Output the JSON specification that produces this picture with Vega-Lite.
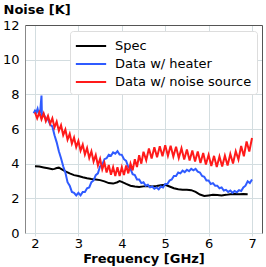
{
"$schema": "https://vega.github.io/schema/vega-lite/v6.json",
"width": 237, "height": 208,
"autosize": "none",
"padding": {"left": 25, "top": 25, "right": 4, "bottom": 34},
"config": {"font": "DejaVu Sans", "view": {"stroke": null},
  "axis": {"labelFont": "DejaVu Sans", "titleFont": "DejaVu Sans", "labelFontSize": 13, "titleFontSize": 13, "titleFontWeight": "bold", "labelColor": "black", "titleColor": "black", "gridColor": "#d3dde0", "gridWidth": 1, "gridOpacity": 1}},
"data": {"values": [
{"s":"Spec","f":2.0,"T":3.85},{"s":"Spec","f":2.1,"T":3.83},{"s":"Spec","f":2.2,"T":3.78},{"s":"Spec","f":2.3,"T":3.73},{"s":"Spec","f":2.4,"T":3.68},{"s":"Spec","f":2.45,"T":3.7},{"s":"Spec","f":2.5,"T":3.75},{"s":"Spec","f":2.55,"T":3.77},{"s":"Spec","f":2.6,"T":3.7},{"s":"Spec","f":2.7,"T":3.56},{"s":"Spec","f":2.8,"T":3.44},{"s":"Spec","f":2.9,"T":3.34},{"s":"Spec","f":3.0,"T":3.29},{"s":"Spec","f":3.1,"T":3.22},{"s":"Spec","f":3.2,"T":3.16},{"s":"Spec","f":3.3,"T":3.11},{"s":"Spec","f":3.4,"T":3.09},{"s":"Spec","f":3.5,"T":3.05},{"s":"Spec","f":3.6,"T":2.98},{"s":"Spec","f":3.7,"T":2.88},{"s":"Spec","f":3.8,"T":2.85},{"s":"Spec","f":3.9,"T":2.93},{"s":"Spec","f":3.95,"T":3.0},{"s":"Spec","f":4.0,"T":2.95},{"s":"Spec","f":4.1,"T":2.83},{"s":"Spec","f":4.2,"T":2.73},{"s":"Spec","f":4.3,"T":2.68},{"s":"Spec","f":4.4,"T":2.66},{"s":"Spec","f":4.5,"T":2.69},{"s":"Spec","f":4.6,"T":2.71},{"s":"Spec","f":4.7,"T":2.68},{"s":"Spec","f":4.8,"T":2.71},{"s":"Spec","f":4.9,"T":2.75},{"s":"Spec","f":5.0,"T":2.78},{"s":"Spec","f":5.1,"T":2.68},{"s":"Spec","f":5.2,"T":2.58},{"s":"Spec","f":5.3,"T":2.52},{"s":"Spec","f":5.4,"T":2.5},{"s":"Spec","f":5.5,"T":2.5},{"s":"Spec","f":5.6,"T":2.47},{"s":"Spec","f":5.7,"T":2.37},{"s":"Spec","f":5.8,"T":2.22},{"s":"Spec","f":5.9,"T":2.14},{"s":"Spec","f":6.0,"T":2.17},{"s":"Spec","f":6.1,"T":2.2},{"s":"Spec","f":6.2,"T":2.19},{"s":"Spec","f":6.3,"T":2.17},{"s":"Spec","f":6.4,"T":2.2},{"s":"Spec","f":6.5,"T":2.24},{"s":"Spec","f":6.6,"T":2.25},{"s":"Spec","f":6.7,"T":2.24},{"s":"Spec","f":6.8,"T":2.25},{"s":"Spec","f":6.9,"T":2.24},
{"s":"Data w/ heater","f":1.97,"T":6.91},{"s":"Data w/ heater","f":2.0,"T":7.06},{"s":"Data w/ heater","f":2.03,"T":6.96},{"s":"Data w/ heater","f":2.06,"T":7.17},{"s":"Data w/ heater","f":2.09,"T":6.86},{"s":"Data w/ heater","f":2.12,"T":7.01},{"s":"Data w/ heater","f":2.15,"T":7.93},{"s":"Data w/ heater","f":2.16,"T":6.81},{"s":"Data w/ heater","f":2.2,"T":6.86},{"s":"Data w/ heater","f":2.25,"T":6.6},{"s":"Data w/ heater","f":2.3,"T":6.55},{"s":"Data w/ heater","f":2.35,"T":6.25},{"s":"Data w/ heater","f":2.4,"T":6.15},{"s":"Data w/ heater","f":2.45,"T":5.64},{"s":"Data w/ heater","f":2.5,"T":5.23},{"s":"Data w/ heater","f":2.55,"T":4.72},{"s":"Data w/ heater","f":2.6,"T":4.31},{"s":"Data w/ heater","f":2.65,"T":3.85},{"s":"Data w/ heater","f":2.7,"T":3.49},{"s":"Data w/ heater","f":2.75,"T":2.93},{"s":"Data w/ heater","f":2.8,"T":2.73},{"s":"Data w/ heater","f":2.85,"T":2.37},{"s":"Data w/ heater","f":2.9,"T":2.32},{"s":"Data w/ heater","f":2.95,"T":2.17},{"s":"Data w/ heater","f":3.0,"T":2.32},{"s":"Data w/ heater","f":3.05,"T":2.17},{"s":"Data w/ heater","f":3.1,"T":2.37},{"s":"Data w/ heater","f":3.15,"T":2.37},{"s":"Data w/ heater","f":3.2,"T":2.58},{"s":"Data w/ heater","f":3.25,"T":2.63},{"s":"Data w/ heater","f":3.3,"T":2.93},{"s":"Data w/ heater","f":3.35,"T":3.03},{"s":"Data w/ heater","f":3.4,"T":3.34},{"s":"Data w/ heater","f":3.45,"T":3.44},{"s":"Data w/ heater","f":3.5,"T":3.85},{"s":"Data w/ heater","f":3.55,"T":3.95},{"s":"Data w/ heater","f":3.6,"T":4.26},{"s":"Data w/ heater","f":3.65,"T":4.31},{"s":"Data w/ heater","f":3.7,"T":4.51},{"s":"Data w/ heater","f":3.75,"T":4.46},{"s":"Data w/ heater","f":3.8,"T":4.65},{"s":"Data w/ heater","f":3.85,"T":4.58},{"s":"Data w/ heater","f":3.9,"T":4.72},{"s":"Data w/ heater","f":3.95,"T":4.53},{"s":"Data w/ heater","f":4.0,"T":4.51},{"s":"Data w/ heater","f":4.05,"T":4.26},{"s":"Data w/ heater","f":4.1,"T":4.16},{"s":"Data w/ heater","f":4.15,"T":3.8},{"s":"Data w/ heater","f":4.2,"T":3.7},{"s":"Data w/ heater","f":4.25,"T":3.39},{"s":"Data w/ heater","f":4.3,"T":3.34},{"s":"Data w/ heater","f":4.35,"T":3.09},{"s":"Data w/ heater","f":4.4,"T":3.09},{"s":"Data w/ heater","f":4.45,"T":2.88},{"s":"Data w/ heater","f":4.5,"T":2.93},{"s":"Data w/ heater","f":4.55,"T":2.73},{"s":"Data w/ heater","f":4.6,"T":2.78},{"s":"Data w/ heater","f":4.65,"T":2.63},{"s":"Data w/ heater","f":4.7,"T":2.68},{"s":"Data w/ heater","f":4.75,"T":2.55},{"s":"Data w/ heater","f":4.8,"T":2.63},{"s":"Data w/ heater","f":4.85,"T":2.52},{"s":"Data w/ heater","f":4.9,"T":2.68},{"s":"Data w/ heater","f":4.95,"T":2.63},{"s":"Data w/ heater","f":5.0,"T":2.83},{"s":"Data w/ heater","f":5.05,"T":2.83},{"s":"Data w/ heater","f":5.1,"T":3.03},{"s":"Data w/ heater","f":5.15,"T":3.09},{"s":"Data w/ heater","f":5.2,"T":3.29},{"s":"Data w/ heater","f":5.25,"T":3.29},{"s":"Data w/ heater","f":5.3,"T":3.49},{"s":"Data w/ heater","f":5.35,"T":3.44},{"s":"Data w/ heater","f":5.4,"T":3.6},{"s":"Data w/ heater","f":5.45,"T":3.51},{"s":"Data w/ heater","f":5.5,"T":3.65},{"s":"Data w/ heater","f":5.55,"T":3.57},{"s":"Data w/ heater","f":5.6,"T":3.7},{"s":"Data w/ heater","f":5.65,"T":3.62},{"s":"Data w/ heater","f":5.7,"T":3.7},{"s":"Data w/ heater","f":5.75,"T":3.54},{"s":"Data w/ heater","f":5.8,"T":3.49},{"s":"Data w/ heater","f":5.85,"T":3.29},{"s":"Data w/ heater","f":5.9,"T":3.24},{"s":"Data w/ heater","f":5.95,"T":3.03},{"s":"Data w/ heater","f":6.0,"T":3.03},{"s":"Data w/ heater","f":6.05,"T":2.83},{"s":"Data w/ heater","f":6.1,"T":2.88},{"s":"Data w/ heater","f":6.15,"T":2.73},{"s":"Data w/ heater","f":6.2,"T":2.73},{"s":"Data w/ heater","f":6.25,"T":2.58},{"s":"Data w/ heater","f":6.3,"T":2.63},{"s":"Data w/ heater","f":6.35,"T":2.45},{"s":"Data w/ heater","f":6.4,"T":2.49},{"s":"Data w/ heater","f":6.45,"T":2.37},{"s":"Data w/ heater","f":6.5,"T":2.45},{"s":"Data w/ heater","f":6.55,"T":2.32},{"s":"Data w/ heater","f":6.6,"T":2.42},{"s":"Data w/ heater","f":6.65,"T":2.35},{"s":"Data w/ heater","f":6.7,"T":2.47},{"s":"Data w/ heater","f":6.75,"T":2.42},{"s":"Data w/ heater","f":6.8,"T":2.63},{"s":"Data w/ heater","f":6.85,"T":2.73},{"s":"Data w/ heater","f":6.9,"T":2.98},{"s":"Data w/ heater","f":6.95,"T":2.88},{"s":"Data w/ heater","f":7.0,"T":3.09},
{"s":"Data w/ noise source","f":2.0,"T":6.96},{"s":"Data w/ noise source","f":2.05,"T":6.62},{"s":"Data w/ noise source","f":2.1,"T":6.96},{"s":"Data w/ noise source","f":2.15,"T":6.55},{"s":"Data w/ noise source","f":2.2,"T":6.89},{"s":"Data w/ noise source","f":2.25,"T":6.45},{"s":"Data w/ noise source","f":2.3,"T":6.76},{"s":"Data w/ noise source","f":2.35,"T":6.3},{"s":"Data w/ noise source","f":2.4,"T":6.62},{"s":"Data w/ noise source","f":2.45,"T":6.09},{"s":"Data w/ noise source","f":2.5,"T":6.42},{"s":"Data w/ noise source","f":2.55,"T":5.89},{"s":"Data w/ noise source","f":2.6,"T":6.22},{"s":"Data w/ noise source","f":2.65,"T":5.65},{"s":"Data w/ noise source","f":2.7,"T":5.97},{"s":"Data w/ noise source","f":2.75,"T":5.38},{"s":"Data w/ noise source","f":2.8,"T":5.72},{"s":"Data w/ noise source","f":2.85,"T":5.16},{"s":"Data w/ noise source","f":2.9,"T":5.51},{"s":"Data w/ noise source","f":2.95,"T":4.95},{"s":"Data w/ noise source","f":3.0,"T":5.31},{"s":"Data w/ noise source","f":3.05,"T":4.75},{"s":"Data w/ noise source","f":3.1,"T":5.1},{"s":"Data w/ noise source","f":3.15,"T":4.53},{"s":"Data w/ noise source","f":3.2,"T":4.9},{"s":"Data w/ noise source","f":3.25,"T":4.33},{"s":"Data w/ noise source","f":3.3,"T":4.71},{"s":"Data w/ noise source","f":3.35,"T":4.13},{"s":"Data w/ noise source","f":3.4,"T":4.5},{"s":"Data w/ noise source","f":3.45,"T":3.9},{"s":"Data w/ noise source","f":3.5,"T":4.28},{"s":"Data w/ noise source","f":3.55,"T":3.67},{"s":"Data w/ noise source","f":3.6,"T":4.05},{"s":"Data w/ noise source","f":3.65,"T":3.49},{"s":"Data w/ noise source","f":3.7,"T":3.92},{"s":"Data w/ noise source","f":3.75,"T":3.36},{"s":"Data w/ noise source","f":3.8,"T":3.8},{"s":"Data w/ noise source","f":3.85,"T":3.29},{"s":"Data w/ noise source","f":3.9,"T":3.8},{"s":"Data w/ noise source","f":3.95,"T":3.29},{"s":"Data w/ noise source","f":4.0,"T":3.8},{"s":"Data w/ noise source","f":4.05,"T":3.34},{"s":"Data w/ noise source","f":4.1,"T":3.9},{"s":"Data w/ noise source","f":4.15,"T":3.44},{"s":"Data w/ noise source","f":4.2,"T":4.0},{"s":"Data w/ noise source","f":4.25,"T":3.61},{"s":"Data w/ noise source","f":4.3,"T":4.26},{"s":"Data w/ noise source","f":4.35,"T":3.81},{"s":"Data w/ noise source","f":4.4,"T":4.49},{"s":"Data w/ noise source","f":4.45,"T":4.0},
{"s":"Data w/ noise source","f":4.5,"T":4.69},{"s":"Data w/ noise source","f":4.5625,"T":4.2},{"s":"Data w/ noise source","f":4.625,"T":4.88},{"s":"Data w/ noise source","f":4.6875,"T":4.3},{"s":"Data w/ noise source","f":4.75,"T":4.95},{"s":"Data w/ noise source","f":4.8125,"T":4.37},{"s":"Data w/ noise source","f":4.875,"T":5.01},{"s":"Data w/ noise source","f":4.9375,"T":4.43},{"s":"Data w/ noise source","f":5.0,"T":5.07},{"s":"Data w/ noise source","f":5.0625,"T":4.45},{"s":"Data w/ noise source","f":5.125,"T":5.04},{"s":"Data w/ noise source","f":5.1875,"T":4.41},{"s":"Data w/ noise source","f":5.25,"T":4.98},{"s":"Data w/ noise source","f":5.3125,"T":4.33},{"s":"Data w/ noise source","f":5.375,"T":4.89},{"s":"Data w/ noise source","f":5.4375,"T":4.24},{"s":"Data w/ noise source","f":5.5,"T":4.82},{"s":"Data w/ noise source","f":5.5625,"T":4.18},{"s":"Data w/ noise source","f":5.625,"T":4.76},{"s":"Data w/ noise source","f":5.6875,"T":4.12},{"s":"Data w/ noise source","f":5.75,"T":4.7},{"s":"Data w/ noise source","f":5.8125,"T":4.04},{"s":"Data w/ noise source","f":5.875,"T":4.62},{"s":"Data w/ noise source","f":5.9375,"T":3.95},{"s":"Data w/ noise source","f":6.0,"T":4.51},{"s":"Data w/ noise source","f":6.0625,"T":3.87},{"s":"Data w/ noise source","f":6.125,"T":4.45},{"s":"Data w/ noise source","f":6.1875,"T":3.81},{"s":"Data w/ noise source","f":6.25,"T":4.42},{"s":"Data w/ noise source","f":6.3125,"T":3.83},{"s":"Data w/ noise source","f":6.375,"T":4.46},{"s":"Data w/ noise source","f":6.4375,"T":3.89},{"s":"Data w/ noise source","f":6.5,"T":4.56},{"s":"Data w/ noise source","f":6.5625,"T":4.01},{"s":"Data w/ noise source","f":6.625,"T":4.72},{"s":"Data w/ noise source","f":6.6875,"T":4.24},{"s":"Data w/ noise source","f":6.75,"T":5.02},{"s":"Data w/ noise source","f":6.8125,"T":4.43},{"s":"Data w/ noise source","f":6.875,"T":5.28},{"s":"Data w/ noise source","f":6.9375,"T":4.7},{"s":"Data w/ noise source","f":7.0,"T":5.48}
]},
"layer": [
 {"mark": {"type": "line", "clip": true},
  "encoding": {
   "x": {"field": "f", "type": "quantitative", "scale": {"domain": [1.77, 7.23], "nice": false, "zero": false},
     "axis": {"title": "Frequency [GHz]", "values": [2,3,4,5,6,7], "domain": false, "ticks": true, "tickColor": "#d3dde0", "tickSize": 3, "labelPadding": 1, "titlePadding": 2}},
   "y": {"field": "T", "type": "quantitative", "scale": {"domain": [0, 12], "nice": false},
     "axis": {"title": "Noise [K]", "values": [0,2,4,6,8,10,12], "domain": true, "domainColor": "#888888", "ticks": false, "labelPadding": 6, "titleAngle": 0, "titleAlign": "left", "titleBaseline": "alphabetic", "titleX": -22, "titleY": -12}},
   "color": {"field": "s", "type": "nominal", "sort": ["Spec", "Data w/ heater", "Data w/ noise source"],
     "scale": {"domain": ["Spec", "Data w/ heater", "Data w/ noise source"], "range": ["#000000", "#2f5bff", "#ff1a1a"]},
     "legend": {"title": null, "orient": "none", "legendX": 45, "legendY": 6, "symbolType": "M-1.75,0H1.75", "symbolSize": 300, "symbolOffset": 6, "labelFontSize": 13, "labelFont": "DejaVu Sans", "labelColor": "black", "labelOffset": 14, "fillColor": "white", "strokeColor": "#dddddd", "cornerRadius": 3, "padding": 5, "rowPadding": 1}},
   "strokeWidth": {"field": "s", "type": "nominal", "scale": {"domain": ["Spec", "Data w/ heater", "Data w/ noise source"], "range": [2, 2, 1.2]}}
  }},
 {"mark": {"type": "line", "opacity": 0},
  "encoding": {
   "x": {"field": "f", "type": "quantitative", "axis": {"orient": "top", "title": null, "labels": false, "ticks": false, "grid": false, "domain": true, "domainColor": "#555555"}},
   "y": {"field": "T", "type": "quantitative", "axis": {"orient": "right", "title": null, "labels": false, "ticks": false, "grid": false, "domain": true, "domainColor": "#555555"}}
  }}
],
"resolve": {"axis": {"x": "independent", "y": "independent"}}
}
